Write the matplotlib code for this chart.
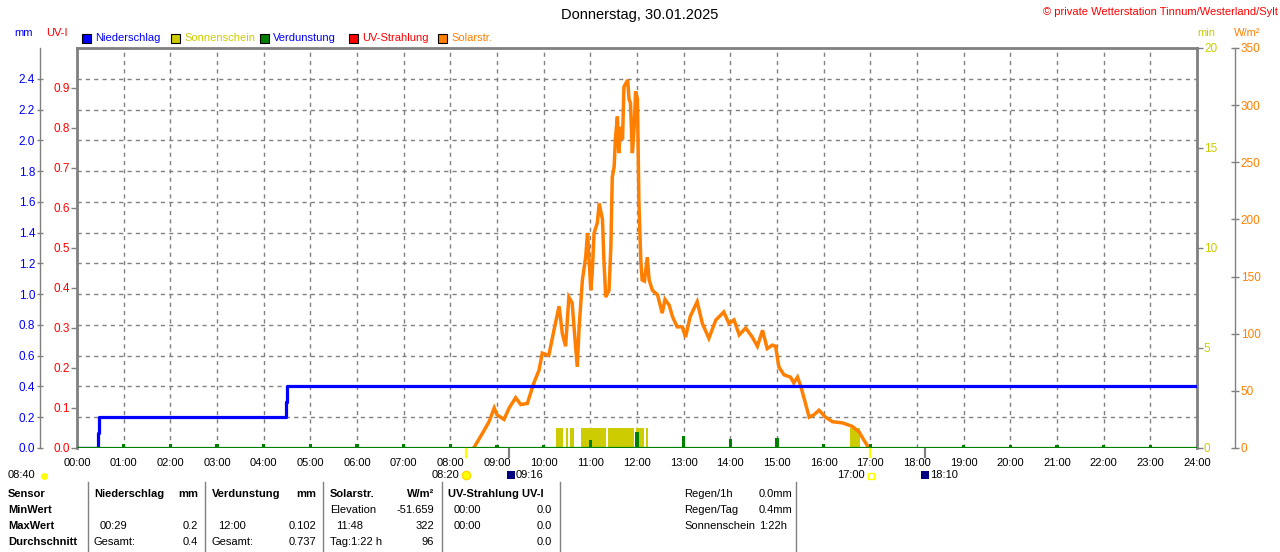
import numpy as np
import matplotlib
matplotlib.use("Agg")
import matplotlib.pyplot as plt
from matplotlib.patches import Rectangle
from matplotlib.lines import Line2D

plt.rcParams['font.family'] = ['Liberation Sans', 'DejaVu Sans']

W, H = 1280, 552

# --- data ---
hours = list(range(25))
hour_labels = [f"{h:02d}:00" for h in hours]

# Niederschlag (mm, cumulative), step line
rain_t = [0.0, 0.45, 0.48, 4.47, 4.50, 24.0]
rain_mm = [0.0, 0.1, 0.2, 0.3, 0.4, 0.4]

# Verdunstung per hour (mm)
evap_t = [1, 2, 3, 4, 5, 6, 7, 8, 9, 10, 11, 12, 13, 14, 15, 16, 17, 19, 20, 21, 22, 23]
evap_mm = [0.025, 0.025, 0.025, 0.025, 0.025, 0.025, 0.025, 0.025, 0.022, 0.022,
           0.055, 0.102, 0.08, 0.058, 0.062, 0.025, 0.025, 0.022, 0.022, 0.022, 0.022, 0.022]

# Sonnenschein intervals (hours), 1 min per minute
sun_start = [10.27, 10.48, 10.57, 10.79, 11.38, 11.97, 12.19, 16.56]
sun_end = [10.41, 10.53, 10.65, 11.33, 11.94, 12.14, 12.24, 16.77]

# Solarstrahlung (W/m2)
solar_t = [8.50, 8.69, 8.83, 8.94, 9.00, 9.15, 9.26, 9.40, 9.51, 9.65, 9.79, 9.90,
           9.97, 10.11, 10.22, 10.33, 10.40, 10.47, 10.54, 10.61, 10.65, 10.72, 10.76,
           10.83, 10.90, 10.94, 11.01, 11.04, 11.08, 11.15, 11.19, 11.26, 11.29, 11.33,
           11.40, 11.44, 11.47, 11.51, 11.54, 11.58, 11.61, 11.65, 11.69, 11.72, 11.76,
           11.80, 11.83, 11.86, 11.90, 11.94, 11.97, 12.01, 12.04, 12.08, 12.11, 12.16,
           12.22, 12.26, 12.33, 12.44, 12.54, 12.60, 12.69, 12.76, 12.86, 12.97, 13.04,
           13.14, 13.29, 13.40, 13.54, 13.69, 13.86, 13.97, 14.08, 14.19, 14.33, 14.47,
           14.58, 14.69, 14.79, 14.90, 14.97, 15.04, 15.15, 15.29, 15.36, 15.44, 15.51,
           15.61, 15.69, 15.79, 15.90, 16.04, 16.19, 16.40, 16.61, 16.76, 16.86, 16.97]
solar_w = [0, 13, 23, 35, 29, 25, 35, 44, 38, 39, 57, 68,
           83, 81, 103, 124, 100, 89, 132, 127, 106, 71, 106,
           147, 167, 188, 138, 153, 188, 197, 214, 200, 165, 132,
           138, 176, 237, 246, 272, 290, 258, 281, 270, 316, 319,
           322, 305, 302, 258, 281, 312, 305, 217, 165, 147, 146,
           167, 147, 138, 134, 118, 130, 125, 115, 106, 106, 97,
           115, 128, 109, 96, 112, 119, 109, 112, 99, 105, 97,
           89, 103, 87, 90, 89, 71, 64, 62, 57, 62, 54,
           39, 27, 29, 33, 27, 23, 22, 19, 14, 7, 0]

mm_ticks = [0.0, 0.2, 0.4, 0.6, 0.8, 1.0, 1.2, 1.4, 1.6, 1.8, 2.0, 2.2, 2.4]
uv_ticks = [0.0, 0.1, 0.2, 0.3, 0.4, 0.5, 0.6, 0.7, 0.8, 0.9]
min_ticks = [0, 5, 10, 15, 20]
wm_ticks = [0, 50, 100, 150, 200, 250, 300, 350]

BLUE = '#0000ff'
RED = '#ff0000'
OLIVE = '#cccc00'
GREEN = '#008000'
ORANGE = '#ff8000'
GRAY = '#808080'


def fx(x):
    return x / W


def fy(y):
    return 1 - y / H


def px2pt(p):
    return p * 72 / 100


fig = plt.figure(figsize=(12.8, 5.52), dpi=100)
fig.patch.set_facecolor('white')
fs = 8
tfs = 8.5  # axis tick labels

left, right, top, bottom = 77, 1197, 48, 448
ax = fig.add_axes([fx(left), fy(bottom), (right - left) / W, (bottom - top) / H])
ax.set_xlim(0, 24)
ax.set_ylim(0, 2.6)

# mm axis, moved outward to the left
ax.spines['left'].set_position(('outward', px2pt(left - 40)))
ax.spines['left'].set_color(GRAY)
ax.spines['left'].set_linewidth(1)
ax.spines['top'].set_color(GRAY)
ax.spines['top'].set_linewidth(2)
ax.spines['right'].set_visible(False)
ax.spines['bottom'].set_visible(False)
ax.set_yticks(mm_ticks)
ax.set_yticklabels([f"{v:.1f}" for v in mm_ticks])
ax.tick_params(axis='y', colors=GRAY, labelcolor=BLUE, direction='inout', length=5,
               width=1, pad=1, labelsize=tfs)
ax.set_xticks(hours)
ax.set_xticklabels(hour_labels)
ax.tick_params(axis='x', length=0, pad=7, labelsize=fs, labelcolor='black')
ax.grid(True, color=GRAY, linestyle=(0, (3, 3)), linewidth=1)
ax.set_axisbelow(True)

# UV axis, on the plot border
ax_uv = ax.twinx()
ax_uv.set_ylim(0, 1.0)
ax_uv.yaxis.tick_left()
for s in ['right', 'top', 'bottom']:
    ax_uv.spines[s].set_visible(False)
ax_uv.spines['left'].set_color(GRAY)
ax_uv.spines['left'].set_linewidth(2)
ax_uv.set_yticks(uv_ticks)
ax_uv.set_yticklabels([f"{v:.1f}" for v in uv_ticks])
ax_uv.tick_params(axis='y', colors=GRAY, labelcolor=RED, direction='out', length=4,
                  width=1, pad=1, labelsize=tfs)

# sunshine minutes axis
ax_min = ax.twinx()
ax_min.set_ylim(0, 20)
for s in ['left', 'top', 'bottom']:
    ax_min.spines[s].set_visible(False)
ax_min.spines['right'].set_color(GRAY)
ax_min.spines['right'].set_linewidth(2)
ax_min.set_yticks(min_ticks)
ax_min.tick_params(axis='y', colors=GRAY, labelcolor=OLIVE, direction='out', length=4,
                   width=1, pad=1, labelsize=tfs)

# solar radiation axis
ax_w = ax.twinx()
ax_w.set_ylim(0, 350)
for s in ['left', 'top', 'bottom']:
    ax_w.spines[s].set_visible(False)
ax_w.spines['right'].set_position(('outward', px2pt(1235 - right)))
ax_w.spines['right'].set_color(GRAY)
ax_w.spines['right'].set_linewidth(1)
ax_w.set_yticks(wm_ticks)
ax_w.tick_params(axis='y', colors=GRAY, labelcolor=ORANGE, direction='inout', length=6,
                 width=1, pad=1, labelsize=tfs)

# marks
for s0, s1 in zip(sun_start, sun_end):
    ax_min.fill_between([s0, s1], 0, 1, color=OLIVE, linewidth=0, zorder=2)
ax_w.plot(solar_t, solar_w, color=ORANGE, linewidth=2.5, zorder=3, solid_joinstyle='miter')
ax_w.plot(rain_t, np.array(rain_mm) / 2.6 * 350, color=BLUE, linewidth=2.3,
          drawstyle='steps-post', zorder=4)
ax_w.bar(evap_t, np.array(evap_mm) / 2.6 * 350, width=0.07, color=GREEN, zorder=5)
ax_w.axhline(0, color=GREEN, linewidth=1.6, zorder=6)

# sunrise / sunset / moon markers below baseline
for t, c in [(8 + 20 / 60, '#ffff00'), (17.0, '#ffff00'), (9 + 16 / 60, GRAY), (18 + 10 / 60, GRAY)]:
    xp = left + t / 24 * (right - left)
    fig.add_artist(Line2D([fx(xp), fx(xp)], [fy(449), fy(457)], color=c, linewidth=1.6,
                          transform=fig.transFigure))

# header texts
fig.text(0.5, fy(15), "Donnerstag, 30.01.2025", ha='center', va='center', fontsize=10.5)
fig.text(fx(1278), fy(12), "\u00a9 private Wetterstation Tinnum/Westerland/Sylt", ha='right',
         va='center', fontsize=fs, color=RED)
fig.text(fx(14), fy(33), "mm", ha='left', va='center', fontsize=fs, color=BLUE)
fig.text(fx(46), fy(33), "UV-I", ha='left', va='center', fontsize=fs, color=RED)
fig.text(fx(1197), fy(33), "min", ha='left', va='center', fontsize=fs, color=OLIVE)
fig.text(fx(1234), fy(33), "W/m\u00b2", ha='left', va='center', fontsize=fs, color=ORANGE)

legend = [("Niederschlag", BLUE, BLUE), ("Sonnenschein", OLIVE, OLIVE),
          ("Verdunstung", GREEN, BLUE), ("UV-Strahlung", RED, RED), ("Solarstr.", ORANGE, ORANGE)]
for i, (name, sq, tc) in enumerate(legend):
    x0 = 82 + i * 89
    fig.add_artist(Rectangle((fx(x0), fy(43)), 9 / W, 9 / H, facecolor=sq, edgecolor='black',
                             linewidth=0.8, transform=fig.transFigure))
    fig.text(fx(x0 + 13), fy(38), name, ha='left', va='center', fontsize=fs, color=tc)

# time row under x axis
ty = 475
fig.text(fx(8), fy(ty), "08:40", ha='left', va='center', fontsize=fs)
fig.add_artist(Line2D([fx(44)], [fy(ty + 1)], marker='o', markersize=5, color='#ffff00',
                      markeredgewidth=0, transform=fig.transFigure))
fig.text(fx(459), fy(ty), "08:20", ha='right', va='center', fontsize=fs)
fig.add_artist(Line2D([fx(466)], [fy(ty)], marker='o', markersize=6, color='#ffff00',
                      markeredgecolor='#ffd800', transform=fig.transFigure))
fig.add_artist(Line2D([fx(511)], [fy(ty)], marker='s', markersize=6, color='#000080',
                      markeredgewidth=0, transform=fig.transFigure))
fig.text(fx(516), fy(ty), "09:16", ha='left', va='center', fontsize=fs)
fig.text(fx(865), fy(ty), "17:00", ha='right', va='center', fontsize=fs)
fig.add_artist(Line2D([fx(871)], [fy(ty + 1)], marker='s', markersize=4, color='white',
                      markeredgecolor='#ffff00', transform=fig.transFigure))
fig.add_artist(Line2D([fx(925)], [fy(ty)], marker='s', markersize=6, color='#000080',
                      markeredgewidth=0, transform=fig.transFigure))
fig.text(fx(930), fy(ty), "18:10", ha='left', va='center', fontsize=fs)

# bottom table
rows_y = [494, 510, 526, 542]
for y, lab in zip(rows_y, ["Sensor", "MinWert", "MaxWert", "Durchschnitt"]):
    fig.text(fx(8), fy(y), lab, ha='left', va='center', fontsize=fs, fontweight='bold')

for xs in [88, 205, 323, 442, 560, 796]:
    fig.add_artist(Line2D([fx(xs), fx(xs)], [fy(482), fy(552)], color=GRAY, linewidth=1,
                          transform=fig.transFigure))

table = [
    (94, 198, "Niederschlag", "mm", ["", ("00:29", "0.2"), ("Gesamt:", "0.4")]),
    (212, 316, "Verdunstung", "mm", ["", ("12:00", "0.102"), ("Gesamt:", "0.737")]),
    (330, 434, "Solarstr.", "W/m\u00b2", [("Elevation", "-51.659"), ("11:48", "322"),
                                          ("Tag:1:22 h", "96")]),
    (448, 552, "UV-Strahlung UV-I", "", [("00:00", "0.0"), ("00:00", "0.0"), ("", "0.0")]),
]
for xl, xr, head, unit, cells in table:
    fig.text(fx(xl), fy(rows_y[0]), head, ha='left', va='center', fontsize=fs, fontweight='bold')
    if unit:
        fig.text(fx(xr), fy(rows_y[0]), unit, ha='right', va='center', fontsize=fs,
                 fontweight='bold')
    for y, cell in zip(rows_y[1:], cells):
        if not cell:
            continue
        a, b = cell
        indent = 6 if a[:1].isdigit() else 0
        fig.text(fx(xl + indent), fy(y), a, ha='left', va='center', fontsize=fs)
        fig.text(fx(xr), fy(y), b, ha='right', va='center', fontsize=fs)

for y, a, b in zip(rows_y[:3], ["Regen/1h", "Regen/Tag", "Sonnenschein"], ["0.0mm", "0.4mm", "1:22h"]):
    fig.text(fx(684), fy(y), a, ha='left', va='center', fontsize=fs)
    fig.text(fx(759), fy(y), b, ha='left', va='center', fontsize=fs)

fig.savefig("out.png", dpi=100, facecolor='white')
